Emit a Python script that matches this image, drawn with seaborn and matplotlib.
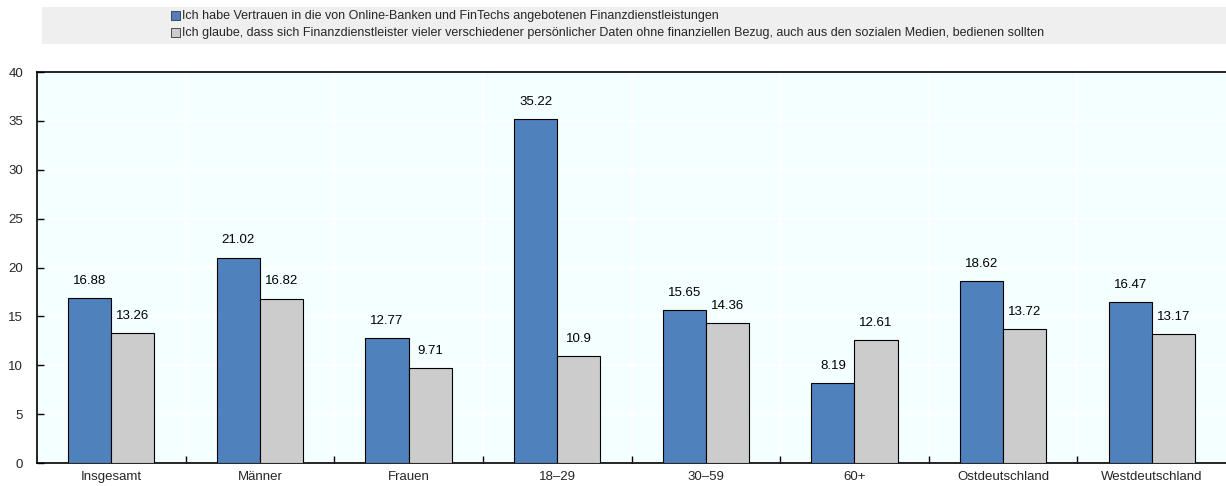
import matplotlib
matplotlib.use("Agg")
import matplotlib.pyplot as plt
import seaborn as sns
import pandas as pd
import numpy as np
from matplotlib.patches import Rectangle

categories = ["Insgesamt", "Männer", "Frauen", "18–29", "30–59", "60+", "Ostdeutschland", "Westdeutschland"]
series_names = [
    "Ich habe Vertrauen in die von Online-Banken und FinTechs angebotenen Finanzdienstleistungen",
    "Ich glaube, dass sich Finanzdienstleister vieler verschiedener persönlicher Daten ohne finanziellen Bezug, auch aus den sozialen Medien, bedienen sollten",
]
vertrauen = [16.88, 21.02, 12.77, 35.22, 15.65, 8.19, 18.62, 16.47]
daten = [13.26, 16.82, 9.71, 10.9, 14.36, 12.61, 13.72, 13.17]
y_ticks = [0, 5, 10, 15, 20, 25, 30, 35, 40]

colors = ["#4F81BD", "#CCCCCC"]

sns.set_theme(style="white")
plt.rcParams["font.family"] = ["Liberation Sans", "DejaVu Sans"]

df = pd.DataFrame({
    "cat": categories * 2,
    "val": vertrauen + daten,
    "series": [series_names[0]] * len(categories) + [series_names[1]] * len(categories),
})

fig = plt.figure(figsize=(12.26, 4.86), dpi=100)
ax = fig.add_axes([37 / 1226, 23 / 486, (1226 - 37) / 1226, (463 - 72) / 486])
ax.set_facecolor("#F4FFFF")

sns.barplot(data=df, x="cat", y="val", hue="series", palette=colors, ax=ax, saturation=1,
            width=0.58, edgecolor="black", linewidth=0.8, legend=False, zorder=3)

for c in ax.containers:
    ax.bar_label(c, labels=[f"{v:g}" for v in c.datavalues], padding=8, fontsize=9.5, color="black")

ax.set_ylim(0, 40)
ax.set_xlim(-0.5, len(categories) - 0.5)
ax.set_yticks(y_ticks)
ax.set_yticklabels([str(t) for t in y_ticks], fontsize=9.5)
ax.set_xticks(range(len(categories)))
ax.set_xticklabels(categories, fontsize=9.5)
ax.tick_params(axis="x", length=0, pad=6)
ax.tick_params(axis="y", direction="in", length=5, width=1, color="black", pad=10, left=True)
ax.set_xticks(np.arange(0.5, len(categories) - 0.5, 1), minor=True)
ax.tick_params(axis="x", which="minor", direction="in", length=5, width=1, color="black", bottom=True)
ax.set_xlabel("")
ax.set_ylabel("")

ax.yaxis.grid(True, color="white", linewidth=1.2, zorder=0)
ax.xaxis.grid(True, which="minor", color="white", linewidth=1.2, zorder=0)
ax.set_axisbelow(True)

for s in ["left", "top", "bottom"]:
    ax.spines[s].set_visible(True)
    ax.spines[s].set_color("black")
    ax.spines[s].set_linewidth(1.2)
ax.spines["right"].set_visible(False)

# Legend box
fig.patches.append(Rectangle((42 / 1226, 1 - 44 / 486), (1226 - 42) / 1226, 37 / 486,
                             transform=fig.transFigure, facecolor="#EFEFEF", edgecolor="none", zorder=0))
for i, (name, col) in enumerate(zip(series_names, colors)):
    yc = 1 - (16 + i * 17) / 486
    fig.patches.append(Rectangle((171 / 1226, yc - 4.5 / 486), 9 / 1226, 9 / 486,
                                 transform=fig.transFigure, facecolor=col, edgecolor="#333333",
                                 linewidth=0.6, zorder=2))
    fig.text(182 / 1226, yc, name, fontsize=9, va="center", ha="left")

fig.savefig("out.png", dpi=100)
